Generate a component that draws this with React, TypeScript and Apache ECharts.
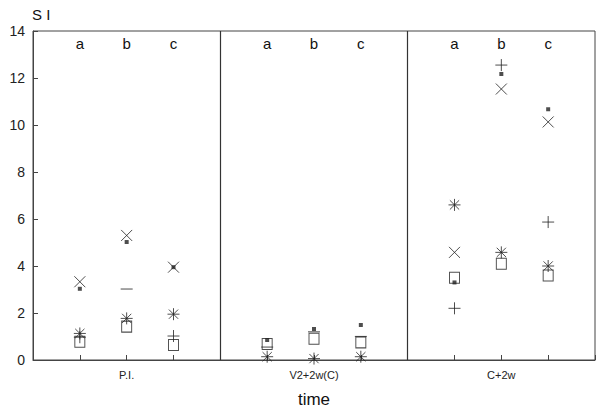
import React, { useEffect, useRef } from "react";
import * as echarts from "echarts";

// Groups along the time axis and their sub-columns
const groups = ["P.I.", "V2+2w(C)", "C+2w"];
const subLabels = ["a", "b", "c"];
// x positions of the 9 sub-columns (a,b,c of each group)
const xPositions = [1, 2, 3, 5, 6, 7, 9, 10, 11];
const groupCenters = [2, 6, 10];
const dividers = [4, 8];

// Values per marker type, one per sub-column (null = absent)
const crossValues = [3.33, 5.3, 3.95, null, null, null, 4.58, 11.53, 10.13];
const asteriskValues = [1.13, 1.77, 1.95, 0.14, 0.06, 0.14, 6.6, 4.58, 4.0];
const plusValues = [0.97, null, 1.02, null, null, null, 2.2, 12.55, 5.87];
const dashValues = [null, 3.02, null, 0.55, 1.2, 1.0, null, null, null];
const openSquareValues = [0.78, 1.42, 0.64, 0.68, 0.9, 0.75, 3.5, 4.1, 3.6];
const filledSquareValues = [3.03, 5.02, 3.95, 0.85, 1.32, 1.49, 3.3, 12.17, 10.67];

const toPoints = (vals: (number | null)[]) =>
  vals
    .map((v, i) => (v == null ? null : [xPositions[i], v]))
    .filter((p) => p !== null) as number[][];

const FONT = "'Liberation Sans', Arial, Helvetica, sans-serif";
const INK = "#222";

export default function App() {
  const ref = useRef<HTMLDivElement>(null);

  useEffect(() => {
    if (!ref.current) return;
    const chart = echarts.init(ref.current, undefined, { renderer: "svg" });

    const strokeStyle = {
      color: "rgba(0,0,0,0)",
      borderColor: INK,
      borderWidth: 1,
    };

    const option: any = {
      animation: false,
      backgroundColor: "#fff",
      grid: {
        left: 33,
        right: 1,
        top: 31,
        bottom: 48,
        containLabel: false,
        outerBoundsMode: "none",
        show: true,
        borderColor: "#444",
        borderWidth: 1,
        backgroundColor: "rgba(0,0,0,0)",
      },
      xAxis: [
        {
          type: "value",
          min: 0,
          max: 12,
          interval: 1,
          position: "bottom",
          name: "time",
          nameLocation: "middle",
          nameGap: 31,
          nameTextStyle: { fontFamily: FONT, fontSize: 17, color: "#111" },
          axisLine: { show: true, lineStyle: { color: "#444" } },
          axisTick: { show: true, inside: true, length: 5, lineStyle: { color: "#444" } },
          splitLine: { show: false },
          axisLabel: {
            fontFamily: FONT,
            fontSize: 11,
            color: "#222",
            margin: 9,
            showMinLabel: true,
            showMaxLabel: true,
            formatter: (v: number) => {
              const i = groupCenters.indexOf(v);
              return i >= 0 ? groups[i] : "";
            },
          },
        },
        {
          type: "value",
          min: 0,
          max: 12,
          interval: 1,
          position: "top",
          axisLine: { show: false },
          axisTick: { show: false },
          splitLine: { show: false },
          axisLabel: {
            inside: true,
            fontFamily: FONT,
            fontSize: 15,
            color: "#111",
            margin: 5,
            showMinLabel: true,
            showMaxLabel: true,
            formatter: (v: number) => {
              const i = xPositions.indexOf(v);
              return i >= 0 ? subLabels[i % 3] : "";
            },
          },
        },
      ],
      yAxis: {
        type: "value",
        min: 0,
        max: 14,
        interval: 2,
        name: "S I",
        nameLocation: "end",
        nameGap: 9,
        nameTextStyle: { fontFamily: FONT, fontSize: 15, color: "#111", align: "left", padding: [0, 0, 0, -1] },
        axisLine: { show: true, lineStyle: { color: "#444" } },
        axisTick: { show: true, inside: true, length: 5, lineStyle: { color: "#444" } },
        splitLine: { show: false },
        axisLabel: { fontFamily: FONT, fontSize: 14, color: "#222", margin: 8 },
      },
      series: [
        {
          type: "scatter",
          name: "cross",
          silent: true,
          symbol: "path://M0 0L10 10M10 0L0 10",
          symbolSize: 11,
          itemStyle: strokeStyle,
          data: toPoints(crossValues),
          markLine: {
            silent: true,
            symbol: ["none", "none"],
            label: { show: false },
            lineStyle: { color: "#333", type: "solid", width: 1.2 },
            data: dividers.map((d) => ({ xAxis: d })),
          },
        },
        {
          type: "scatter",
          name: "asterisk",
          silent: true,
          symbol: "path://M0 0L10 10M10 0L0 10M5 -1.5L5 11.5M-1.5 5L11.5 5",
          symbolSize: 12,
          itemStyle: strokeStyle,
          data: toPoints(asteriskValues),
        },
        {
          type: "scatter",
          name: "plus",
          silent: true,
          symbol: "path://M5 0L5 10M0 5L10 5",
          symbolSize: 12,
          itemStyle: strokeStyle,
          data: toPoints(plusValues),
        },
        {
          type: "scatter",
          name: "dash",
          silent: true,
          symbol: "rect",
          symbolSize: [12, 1.2],
          itemStyle: { color: "#444" },
          data: toPoints(dashValues),
        },
        {
          type: "scatter",
          name: "openSquare",
          silent: true,
          symbol: "rect",
          symbolSize: [10, 11],
          itemStyle: strokeStyle,
          data: toPoints(openSquareValues),
        },
        {
          type: "scatter",
          name: "filledSquare",
          silent: true,
          symbol: "rect",
          symbolSize: 4,
          itemStyle: { color: "#222" },
          data: toPoints(filledSquareValues),
        },
      ],
    };

    chart.setOption(option);
    return () => chart.dispose();
  }, []);

  return (
    <div
      ref={ref}
      style={{ position: "absolute", left: 0, top: 0, width: 596, height: 408 }}
    />
  );
}
